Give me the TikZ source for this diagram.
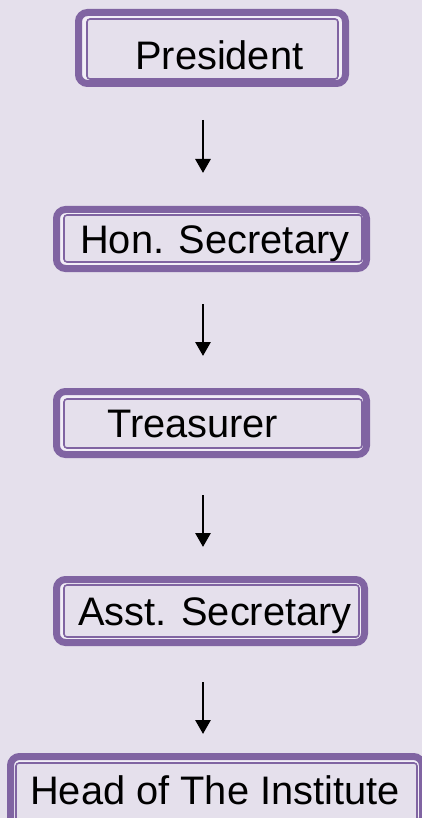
\documentclass[tikz,border=0pt]{standalone}
\usepackage{fontspec}
\setmainfont{Liberation Sans}
\usetikzlibrary{arrows.meta}
\definecolor{bgc}{RGB}{229,224,236}
\definecolor{purp}{RGB}{128,100,162}
\definecolor{gapc}{RGB}{242,238,247}
\tikzset{
  outerbox/.style={draw=purp, line width=7pt, fill=gapc, rounded corners=9pt, inner sep=0pt, shape=rectangle},
  innerbox/.style={draw=purp, line width=1.6pt, fill=bgc, rounded corners=3pt, inner sep=0pt, shape=rectangle},
  lbl/.style={anchor=base west, inner sep=0pt, font=\fontsize{39.8}{44}\selectfont},
  arr/.style={line width=2.8pt, -{Triangle[width=15pt,length=14pt]}}
}
\begin{document}
\begin{tikzpicture}[x=1pt,y=-1pt]
\useasboundingbox (0,0) rectangle (422,818);
\fill[bgc] (0,0) rectangle (422,818);
\clip (0,0) rectangle (422,818);
% President
\node[outerbox, minimum width=267pt, minimum height=71pt] (presO) at (212,48) {};
\node[innerbox, minimum width=251pt, minimum height=60pt] (pres) at (212.5,49) {};
\node[lbl] (presT) at (135,70) {President};
% Hon. Secretary
\node[outerbox, minimum width=310pt, minimum height=59pt] (honO) at (211.5,239) {};
\node[innerbox, minimum width=298pt, minimum height=47pt] (hon) at (213,238.5) {};
\node[lbl] (honT) at (80,253) {Hon. Secretary};
% Treasurer
\node[outerbox, minimum width=310pt, minimum height=63pt] (treO) at (211.5,423) {};
\node[innerbox, minimum width=298pt, minimum height=49pt] (tre) at (213,423.5) {};
\node[lbl] (treT) at (107,437) {Treasurer};
% Asst. Secretary
\node[outerbox, minimum width=308pt, minimum height=63pt] (assO) at (210.5,611) {};
\node[innerbox, minimum width=295pt, minimum height=52pt] (ass) at (211.5,611) {};
\node[lbl] (assT) at (78,625) {Asst. Secretary};
% Head of The Institute
\node[outerbox, minimum width=412pt, minimum height=70pt] (headO) at (216.5,791.5) {};
\node[innerbox, minimum width=401pt, minimum height=60pt] (head) at (216.5,793) {};
\node[lbl] (headT) at (30,804) {Head of The Institute};
% arrows
\coordinate (a1s) at (203,120); \coordinate (a1e) at (203,173);
\coordinate (a2s) at (203,304); \coordinate (a2e) at (203,356);
\coordinate (a3s) at (203,495); \coordinate (a3e) at (203,547);
\coordinate (a4s) at (203,682); \coordinate (a4e) at (203,734);
\draw[arr] (a1s) -- (a1e);
\draw[arr] (a2s) -- (a2e);
\draw[arr] (a3s) -- (a3e);
\draw[arr] (a4s) -- (a4e);
\end{tikzpicture}
\end{document}
